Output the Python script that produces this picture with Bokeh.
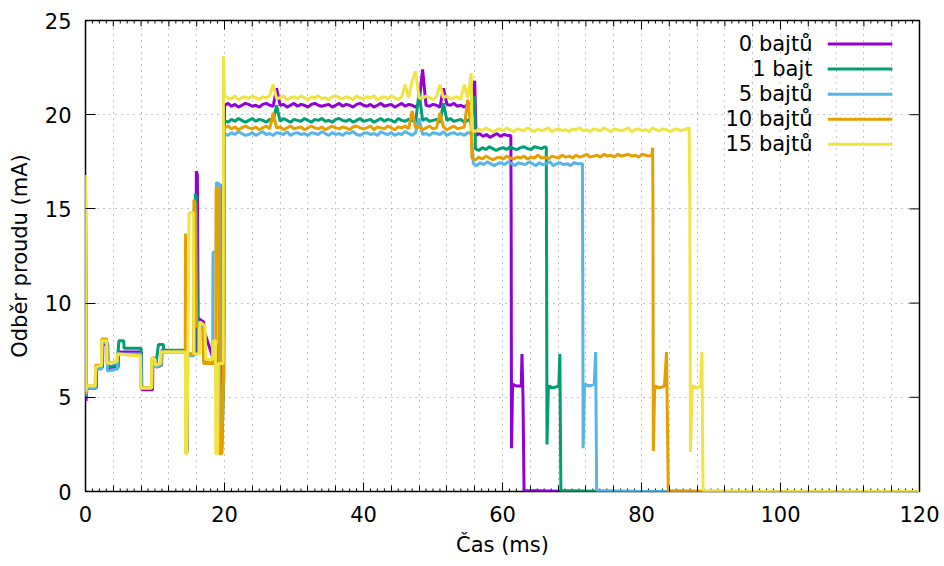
from bokeh.plotting import figure
from bokeh.models import Range1d, SingleIntervalTicker, Label
from bokeh.embed import file_html
from bokeh.resources import INLINE

# Current draw (mA) over time (ms) while sending payloads of different sizes
series_labels = ["0 bajtů", "1 bajt", "5 bajtů", "10 bajtů", "15 bajtů"]
series_colors = ["#9400d3", "#009e73", "#56b4e9", "#e69f00", "#f0e442"]

# Each trace: start-up (explicit points), radio-on plateau and lower plateau
# (uniformly sampled every SAMPLE_MS from the given start time), then shutdown.
SAMPLE_MS = 0.5

# --- 0 bajtů -------------------------------------------------------------
t_0b_start = [0.0, 0.08, 0.2, 1.55, 1.6, 2.45, 2.5, 3.2, 3.25, 4.7, 4.75, 8.05, 8.1,
              9.65, 9.7, 10.15, 10.2, 10.95, 11.0, 14.5, 14.55, 14.65, 14.7, 15.9,
              15.95, 16.1, 16.2, 17.0, 17.1, 18.4, 18.5, 18.8, 18.85, 19.85]
i_0b_start = [16.8, 4.8, 5.5, 5.5, 6.5, 6.6, 7.8, 7.8, 6.5, 6.6, 7.4, 7.4, 5.4,
              5.4, 7.1, 7.0, 6.6, 6.7, 7.5, 7.4, 2.2, 2.2, 7.2, 7.3,
              17.0, 16.8, 9.2, 9.0, 8.5, 7.0, 6.9, 7.8, 6.8, 6.8]
hi_0b_t0 = 20.0
i_0b_hi = [20.5, 20.6, 20.45, 20.55, 20.4, 20.5, 20.6, 20.55, 20.45, 20.5, 20.4, 20.55,
           20.6, 20.5, 20.45, 21.4, 20.5, 20.55, 20.4, 20.5, 20.6, 20.45, 20.55, 20.5,
           20.4, 20.55, 20.6, 20.5, 20.45, 20.5, 20.55, 20.4, 20.5, 20.6, 20.45, 20.55,
           20.5, 20.4, 20.55, 20.6, 20.5, 20.45, 20.55, 20.4, 20.5, 20.6, 20.45, 20.5,
           20.55, 20.4, 20.5, 20.6, 20.45, 20.55, 20.5, 20.4, 20.6, 22.4, 20.5, 20.45,
           20.55, 20.5, 20.4, 21.4, 20.55, 20.5, 20.6, 20.45, 20.5, 20.4, 20.55, 20.6,
           21.8]
lo_0b_t0 = 56.2
i_0b_lo = [18.9, 19.0, 18.85, 18.95, 18.8, 18.9, 19.0, 18.85, 18.95, 18.9, 18.9]
t_0b_end = [61.25, 61.3, 61.45, 62.0, 62.7, 62.8, 62.95, 63.1, 70.0, 120.0]
i_0b_end = [14.2, 2.3, 5.7, 5.6, 5.6, 7.3, 5.0, 0.05, 0.0, 0.0]

# --- 1 bajt --------------------------------------------------------------
t_1b_start = [0.0, 0.07, 0.18, 1.5, 1.55, 2.4, 2.45, 3.15, 3.2, 4.6, 4.65, 4.8, 5.5,
              5.55, 8.0, 8.05, 9.6, 9.65, 10.1, 10.15, 10.5, 11.2, 11.25, 14.45,
              14.5, 14.6, 14.65, 15.75, 15.8, 15.95, 16.1, 17.0, 17.1, 18.4, 18.5,
              19.4, 19.45, 19.5, 19.55, 19.6, 19.9]
i_1b_start = [16.8, 5.0, 5.5, 5.5, 6.6, 6.7, 7.9, 7.9, 6.6, 6.7, 7.2, 8.0, 8.0,
              7.6, 7.6, 5.5, 5.5, 7.1, 7.0, 6.8, 7.8, 7.8, 7.5, 7.5,
              2.1, 2.1, 7.3, 7.3, 15.8, 15.6, 9.0, 8.8, 7.0, 7.0, 6.9,
              6.8, 2.0, 16.3, 16.2, 2.0, 6.0]
hi_1b_t0 = 20.0
i_1b_hi = [19.7, 19.6, 19.75, 19.65, 19.8, 19.7, 19.6, 19.7, 19.8, 19.65, 19.75, 19.7,
           19.6, 19.75, 19.7, 20.5, 19.65, 19.8, 19.7, 19.6, 19.75, 19.7, 19.65, 19.8,
           19.7, 19.6, 19.75, 19.7, 19.8, 19.65, 19.7, 19.6, 19.75, 19.8, 19.7, 19.65,
           19.75, 19.6, 19.7, 19.8, 19.65, 19.7, 19.75, 19.6, 19.7, 19.8, 19.65, 19.75,
           19.7, 19.6, 19.8, 19.7, 19.65, 19.75, 19.7, 19.6, 21.2, 19.7, 19.8, 19.65,
           19.7, 19.75, 19.6, 20.6, 19.7, 19.8, 19.65, 19.7, 19.75, 19.6, 19.7, 19.8,
           21.0]
lo_1b_t0 = 56.1
i_1b_lo = [18.2, 18.1, 18.25, 18.15, 18.3, 18.2, 18.1, 18.2, 18.25, 18.15, 18.3, 18.2,
           18.15, 18.25, 18.3, 18.2, 18.15, 18.3, 18.25, 18.2, 18.3]
t_1b_end = [66.3, 66.35, 66.4, 66.6, 67.3, 68.1, 68.25, 68.4, 75.0, 120.0]
i_1b_end = [18.25, 11.4, 2.5, 5.6, 5.5, 5.6, 7.3, 0.05, 0.0, 0.0]

# --- 5 bajtů -------------------------------------------------------------
t_5b_start = [0.0, 0.06, 0.16, 1.45, 1.5, 2.35, 2.4, 3.1, 3.15, 4.6, 4.65, 7.95, 8.0,
              9.55, 9.6, 10.05, 10.1, 10.9, 10.95, 14.4, 14.45, 14.55, 14.6, 15.6,
              15.65, 15.8, 16.0, 16.9, 17.0, 18.3, 18.35, 18.8, 18.85, 19.3, 19.35,
              19.85]
i_5b_start = [16.8, 5.1, 5.5, 5.5, 6.5, 6.5, 7.9, 7.9, 6.4, 6.5, 7.3, 7.3, 5.5,
              5.5, 7.0, 6.9, 6.6, 6.7, 7.4, 7.4, 2.0, 2.0, 7.2, 7.2,
              15.0, 14.8, 8.9, 8.7, 6.9, 6.8, 12.7, 12.7, 16.4, 16.3, 2.0,
              6.0]
hi_5b_t0 = 20.0
i_5b_hi = [19.0, 18.9, 19.05, 18.95, 19.1, 19.0, 18.9, 18.95, 19.05, 18.9, 19.0, 19.1,
           18.95, 19.0, 18.9, 19.05, 19.0, 18.95, 19.1, 18.9, 19.0, 19.05, 18.95, 19.0,
           18.9, 19.05, 19.0, 18.95, 19.1, 19.0, 18.9, 19.05, 18.95, 19.0, 18.9, 19.05,
           19.0, 19.1, 18.95, 18.9, 19.0, 19.05, 18.95, 19.0, 18.9, 19.1, 19.0, 18.95,
           19.05, 18.9, 19.0, 18.95, 19.1, 19.0, 18.9, 19.05, 19.8, 18.95, 19.0, 18.9,
           19.05, 19.0, 18.95, 19.1, 18.9, 19.0, 19.05, 18.95, 19.0, 18.9, 19.05, 19.0]
lo_5b_t0 = 55.8
i_5b_lo = [17.4, 17.3, 17.45, 17.35, 17.5, 17.4, 17.3, 17.4, 17.45, 17.35, 17.5, 17.4,
           17.3, 17.45, 17.4, 17.35, 17.5, 17.4, 17.3, 17.45, 17.35, 17.4, 17.5, 17.3,
           17.4, 17.45, 17.35, 17.4, 17.3, 17.45, 17.4, 17.4]
t_5b_end = [71.5, 71.55, 71.6, 71.8, 72.5, 73.2, 73.4, 73.55, 80.0, 120.0]
i_5b_end = [17.4, 11.1, 2.3, 5.7, 5.6, 5.7, 7.4, 0.05, 0.0, 0.0]

# --- 10 bajtů ------------------------------------------------------------
t_10b_start = [0.0, 0.05, 0.15, 1.4, 1.45, 2.3, 2.35, 3.05, 3.1, 4.55, 4.6, 7.9, 7.95,
               9.5, 9.55, 10.0, 10.05, 10.85, 10.9, 14.35, 14.4, 14.45, 14.5, 15.55,
               15.6, 15.75, 15.9, 16.9, 17.0, 18.75, 18.8, 19.2, 19.25, 19.6, 19.85]
i_10b_start = [16.8, 5.2, 5.6, 5.6, 6.7, 6.7, 8.1, 8.1, 6.8, 6.9, 7.3, 7.2, 5.5,
               5.5, 7.1, 7.0, 6.7, 6.8, 7.4, 7.4, 13.7, 2.0, 7.3, 7.3,
               15.5, 15.3, 8.8, 8.6, 6.8, 6.8, 16.1, 16.1, 2.0, 2.0, 6.0]
hi_10b_t0 = 20.0
i_10b_hi = [19.3, 19.4, 19.25, 19.35, 19.2, 19.3, 19.4, 19.3, 19.25, 19.35, 19.2, 19.3,
            19.4, 19.25, 20.1, 19.3, 19.35, 19.2, 19.3, 19.4, 19.25, 19.3, 19.35, 19.2,
            19.3, 19.4, 19.3, 19.25, 19.35, 19.2, 19.3, 19.4, 19.3, 19.25, 19.35, 19.3,
            19.2, 19.35, 19.4, 19.3, 19.25, 19.3, 19.4, 19.2, 19.35, 19.3, 19.25, 19.4,
            19.3, 19.2, 19.35, 19.3, 19.4, 19.25, 20.2, 19.3, 19.35, 19.2, 19.3, 19.4,
            19.25, 19.3, 20.1, 19.35, 19.2, 19.3, 19.4, 19.25, 19.3, 19.35, 20.8, 19.3]
lo_10b_t0 = 55.6
i_10b_lo = [17.7, 17.6, 17.75, 17.65, 17.8, 17.7, 17.6, 17.7, 17.75, 17.65, 17.8, 17.7,
            17.65, 17.75, 17.7, 17.8, 17.65, 17.75, 17.7, 17.85, 17.7, 17.75, 17.65, 17.8,
            17.75, 17.7, 17.85, 17.75, 17.8, 17.7, 17.85, 17.75, 17.8, 17.9, 17.75, 17.8,
            17.85, 17.75, 17.9, 17.8, 17.85, 17.75, 17.9, 17.8, 17.85, 17.9, 17.8, 17.85,
            17.75, 17.9, 17.85, 17.8]
t_10b_end = [81.5, 81.6, 81.65, 81.7, 81.9, 82.6, 83.3, 83.6, 83.85, 90.0, 120.0]
i_10b_end = [17.85, 18.25, 15.3, 2.15, 5.6, 5.5, 5.6, 7.4, 0.05, 0.0, 0.0]

# --- 15 bajtů ------------------------------------------------------------
t_15b_start = [0.0, 0.06, 0.15, 1.4, 1.45, 2.3, 2.35, 3.05, 3.1, 4.55, 4.6, 7.9, 7.95,
               9.5, 9.55, 10.0, 10.05, 10.8, 10.85, 14.35, 14.4, 14.6, 14.9, 15.5,
               15.6, 16.4, 16.45, 17.2, 17.3, 18.3, 18.4, 18.7, 18.75, 19.0, 19.1,
               19.8, 19.85]
i_15b_start = [16.8, 5.3, 5.6, 5.6, 6.6, 6.7, 8.0, 8.0, 6.8, 6.9, 7.3, 7.2, 5.5,
               5.5, 7.1, 7.0, 6.7, 6.8, 7.4, 7.4, 2.0, 2.0, 14.8, 14.8,
               7.3, 7.3, 9.0, 8.8, 7.0, 7.0, 8.0, 8.0, 2.0, 2.0, 6.8,
               6.8, 23.1]
hi_15b_t0 = 20.0
i_15b_hi = [21.0, 20.9, 20.85, 21.0, 20.8, 20.9, 20.95, 20.85, 21.0, 20.9, 20.8, 20.95,
            20.9, 21.0, 21.6, 20.85, 20.9, 21.0, 20.8, 20.9, 20.95, 20.85, 21.0, 20.9,
            20.8, 20.95, 20.9, 21.0, 20.85, 20.9, 20.8, 20.95, 21.0, 20.9, 20.85, 20.95,
            20.9, 20.8, 21.0, 20.9, 20.85, 20.95, 20.9, 21.0, 20.8, 20.9, 20.95, 20.85,
            21.0, 20.9, 20.8, 20.95, 21.6, 20.9, 21.8, 22.3, 20.9, 20.85, 21.0, 20.9,
            20.8, 20.95, 21.6, 20.9, 21.0, 20.85, 20.9, 20.95, 20.8, 21.6, 20.9, 22.2]
lo_15b_t0 = 55.6
i_15b_lo = [19.2, 19.1, 19.25, 19.15, 19.3, 19.2, 19.1, 19.2, 19.25, 19.15, 19.3, 19.2,
            19.1, 19.25, 19.2, 19.15, 19.3, 19.2, 19.1, 19.25, 19.15, 19.2, 19.3, 19.1,
            19.2, 19.25, 19.15, 19.2, 19.1, 19.25, 19.2, 19.3, 19.15, 19.2, 19.1, 19.25,
            19.2, 19.15, 19.3, 19.2, 19.1, 19.25, 19.2, 19.15, 19.2, 19.3, 19.1, 19.2,
            19.25, 19.15, 19.2, 19.1, 19.3, 19.2, 19.15, 19.25, 19.2, 19.1, 19.2, 19.25,
            19.15, 19.2]
t_15b_end = [86.85, 86.95, 87.05, 87.3, 88.0, 88.5, 88.7, 88.85, 95.0, 120.0]
i_15b_end = [19.3, 15.7, 2.1, 5.6, 5.5, 5.6, 7.4, 0.05, 0.0, 0.0]


def sample_times(t0, values):
    return [t0 + SAMPLE_MS * k for k in range(len(values))]


def trace(t_start, i_start, hi_t0, i_hi, lo_t0, i_lo, t_end, i_end):
    t = t_start + sample_times(hi_t0, i_hi) + sample_times(lo_t0, i_lo) + t_end
    i = i_start + i_hi + i_lo + i_end
    return t, i


traces = [
    trace(t_0b_start, i_0b_start, hi_0b_t0, i_0b_hi, lo_0b_t0, i_0b_lo, t_0b_end, i_0b_end),
    trace(t_1b_start, i_1b_start, hi_1b_t0, i_1b_hi, lo_1b_t0, i_1b_lo, t_1b_end, i_1b_end),
    trace(t_5b_start, i_5b_start, hi_5b_t0, i_5b_hi, lo_5b_t0, i_5b_lo, t_5b_end, i_5b_end),
    trace(t_10b_start, i_10b_start, hi_10b_t0, i_10b_hi, lo_10b_t0, i_10b_lo, t_10b_end, i_10b_end),
    trace(t_15b_start, i_15b_start, hi_15b_t0, i_15b_hi, lo_15b_t0, i_15b_lo, t_15b_end, i_15b_end),
]

x_label = "Čas (ms)"
y_label = "Odběr proudu (mA)"

X_MIN, X_MAX = 0, 120
Y_MIN, Y_MAX = 0, 25
FONT = "DejaVu Sans"
FONT_SIZE = "21px"

# figure geometry (pixels)
W, H = 944, 566
LEFT, RIGHT, TOP, BOTTOM = 85, 25, 20, 75
FRAME_W = W - LEFT - RIGHT
FRAME_H = H - TOP - BOTTOM

p = figure(width=W, height=H,
           x_range=Range1d(X_MIN, X_MAX), y_range=Range1d(Y_MIN, Y_MAX),
           output_backend="svg", toolbar_location=None,
           min_border_left=LEFT, min_border_right=RIGHT,
           min_border_top=TOP, min_border_bottom=BOTTOM)
p.background_fill_color = "white"
p.border_fill_color = "white"
p.outline_line_color = "black"
p.outline_line_width = 1.5

# labelled ticks every 20 ms / 5 mA; 4 ms ticks as minor ticks
x_ticker = SingleIntervalTicker(interval=20, num_minor_ticks=5)
y_ticker = SingleIntervalTicker(interval=5, num_minor_ticks=0)

xa = p.xaxis[0]
xa.ticker = x_ticker
xa.axis_label = x_label
ya = p.yaxis[0]
ya.ticker = y_ticker
ya.axis_label = y_label

for ax in (xa, ya):
    ax.axis_line_color = None
    ax.major_tick_out = 0
    ax.minor_tick_out = 0
    ax.major_tick_line_color = "black"
    ax.minor_tick_line_color = "black"
    ax.major_label_text_font = FONT
    ax.major_label_text_font_size = FONT_SIZE
    ax.major_label_text_color = "black"
    ax.axis_label_text_font = FONT
    ax.axis_label_text_font_size = FONT_SIZE
    ax.axis_label_text_font_style = "normal"
    ax.axis_label_text_color = "black"

xa.major_tick_in = 9
xa.minor_tick_in = 6
xa.major_label_standoff = 14
xa.axis_label_standoff = 8
ya.major_tick_in = 10
ya.minor_tick_in = 0
ya.major_label_standoff = 14
ya.axis_label_standoff = 10

# dotted grid: every 4 ms and every 5 mA
for g in (p.xgrid[0], p.ygrid[0]):
    g.grid_line_color = "#8a8a8a"
    g.grid_line_width = 1
    g.grid_line_dash = "1 5"
p.xgrid[0].ticker = SingleIntervalTicker(interval=4)
p.ygrid[0].ticker = y_ticker

# fine 1 ms ticks on the bottom border and mirrored ticks on top / right
dy_px = (Y_MAX - Y_MIN) / FRAME_H
dx_px = (X_MAX - X_MIN) / FRAME_W
tx, ty0, ty1 = [], [], []
for ms in range(X_MIN, X_MAX + 1):
    if ms % 20 == 0:
        ln = 9
    elif ms % 4 == 0:
        ln = 6
    else:
        ln = 3
    tx.append(ms); ty0.append(Y_MAX); ty1.append(Y_MAX - ln * dy_px)
    if ms % 4 != 0:
        tx.append(ms); ty0.append(Y_MIN); ty1.append(Y_MIN + 3 * dy_px)
p.segment(x0=tx, y0=ty0, x1=tx, y1=ty1, line_color="black", line_width=1)
ry = list(range(Y_MIN + 5, Y_MAX, 5))
p.segment(x0=[X_MAX] * len(ry), y0=ry, x1=[X_MAX - 10 * dx_px] * len(ry), y1=ry,
          line_color="black", line_width=1)

for (t, i), c in zip(traces, series_colors):
    p.line(t, i, line_color=c, line_width=3)

# key in the upper right corner: right-aligned text followed by a line sample
key_text_x = 104.6
key_line_x0 = 106.8
key_line_x1 = 116.1
key_top_y = 23.75
key_step_y = 1.33
for n, (lab, c) in enumerate(zip(series_labels, series_colors)):
    yk = key_top_y - n * key_step_y
    p.add_layout(Label(x=key_text_x, y=yk, text=lab, text_align="right",
                       text_baseline="middle", text_font=FONT,
                       text_font_size=FONT_SIZE, text_color="black"))
    p.segment(x0=[key_line_x0], y0=[yk], x1=[key_line_x1], y1=[yk],
              line_color=c, line_width=3)

open("out.html", "w").write(file_html(p, INLINE))
